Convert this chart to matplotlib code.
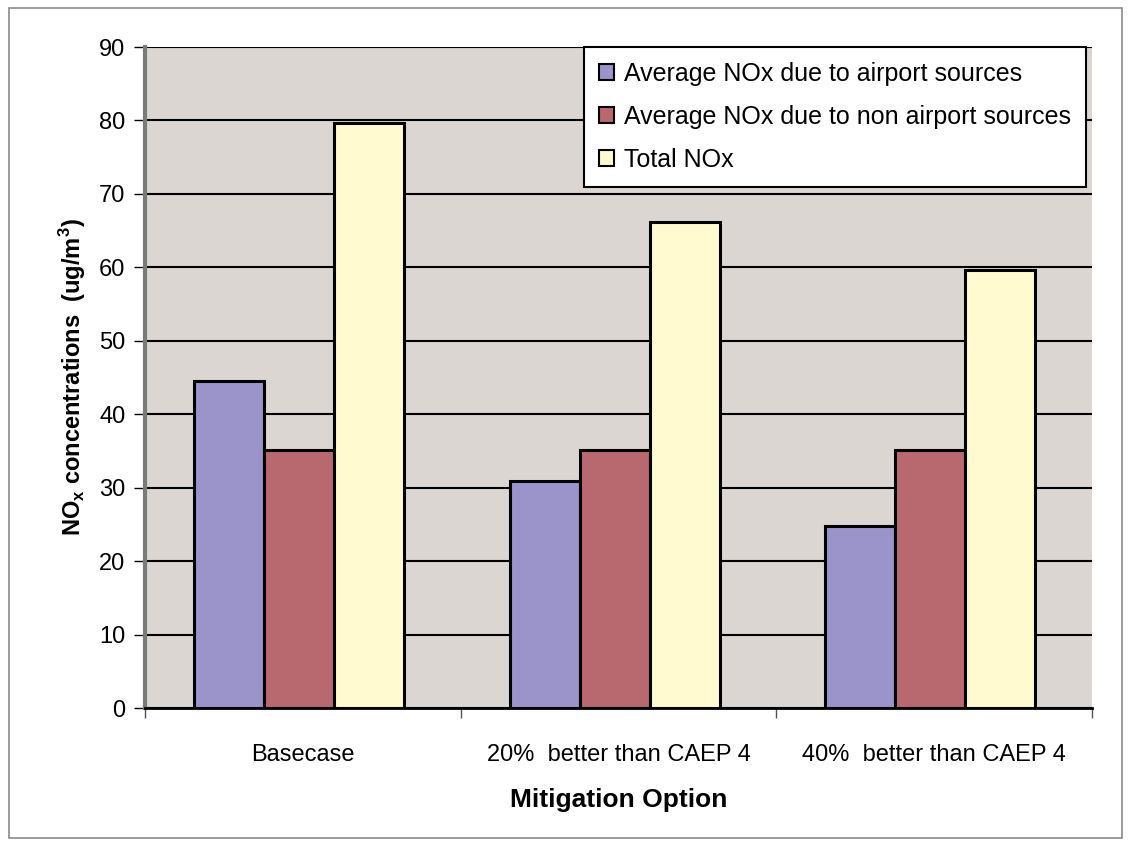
import matplotlib.pyplot as plt
import numpy as np
from matplotlib.patches import Rectangle

plt.rcParams['font.family'] = ['Liberation Sans', 'DejaVu Sans']

options = ['Basecase', '20%  better than CAEP 4', '40%  better than CAEP 4']
series_names = ['Average NOx due to airport sources',
                'Average NOx due to non airport sources',
                'Total NOx']
airport = [44.5, 30.9, 24.8]
non_airport = [35.1, 35.1, 35.1]
total = [79.6, 66.2, 59.7]
colors = ['#9a94cb', '#b8686f', '#fffad0']

fig = plt.figure(figsize=(11.29, 8.43), dpi=100)
fig.patches.append(Rectangle((0.008, 0.006), 0.986, 0.985, transform=fig.transFigure,
                             fill=False, edgecolor='#8a8a8a', linewidth=1.2))
ax = fig.add_axes([0.1284, 0.1601, 0.8388, 0.7841])
ax.set_facecolor('#dcd6d3')

x = np.arange(len(options)) - 0.012
width = 0.222
for i, (vals, name) in enumerate(zip([airport, non_airport, total], series_names)):
    ax.bar(x + (i - 1) * width, vals, width, color=colors[i], edgecolor='black',
           linewidth=2.2, label=name, zorder=3)

ax.set_xlim(-0.5, 2.5)
ax.set_ylim(0, 90)
ax.set_yticks(range(0, 91, 10))
ax.yaxis.grid(True, color='black', linewidth=1.5, zorder=1)
ax.set_axisbelow(True)

# category ticks sit on the boundaries between groups
ax.set_xticks([-0.5, 0.5, 1.5, 2.5])
ax.set_xticklabels([])
ax.set_xticks(np.arange(len(options)), minor=True)
ax.set_xticklabels(options, minor=True, fontsize=17)
ax.tick_params(axis='x', which='major', length=7, width=1, color='#555555')
ax.tick_params(axis='x', which='minor', length=0, pad=26)
ax.tick_params(axis='y', length=8, width=1, labelsize=17, pad=6)

for s in ['top', 'right']:
    ax.spines[s].set_visible(False)
ax.spines['left'].set_color('#7a7a7a')
ax.spines['left'].set_linewidth(3)
ax.spines['bottom'].set_color('black')
ax.spines['bottom'].set_linewidth(2)

ax.set_ylabel(r'NO$_\mathregular{x}$ concentrations  (ug/m$^\mathregular{3}$)',
              fontsize=17, fontweight='bold', labelpad=8)
ax.set_xlabel('Mitigation Option', fontsize=19, fontweight='bold', labelpad=16)

leg = ax.legend(loc='upper right', bbox_to_anchor=(0.9615, 0.9442),
                bbox_transform=fig.transFigure, fontsize=18, fancybox=False,
                framealpha=1, edgecolor='black', handlelength=0.6,
                handleheight=0.6, handletextpad=0.4, borderaxespad=0,
                labelspacing=0.75, borderpad=0.6)
leg.get_frame().set_linewidth(1.5)
for h in leg.legend_handles:
    h.set_linewidth(1.5)

fig.savefig('out.png', dpi=100)
